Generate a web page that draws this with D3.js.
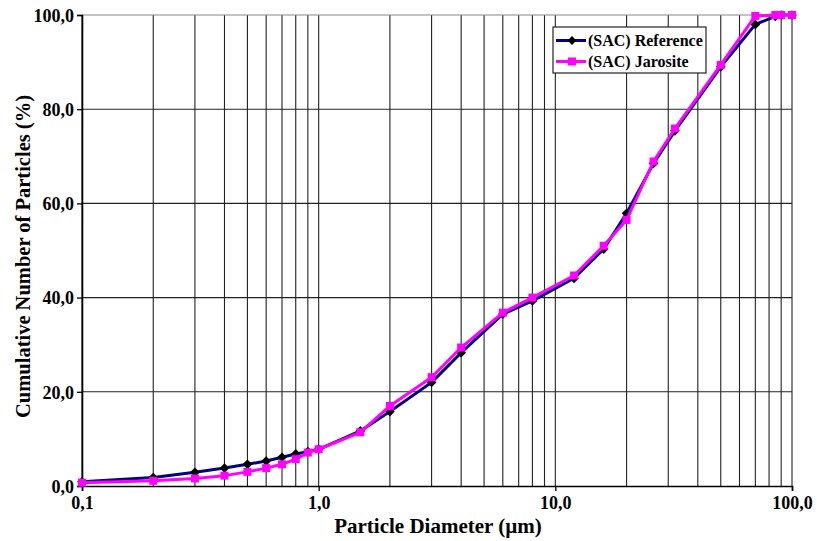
<!DOCTYPE html>
<html>
<head>
<meta charset="utf-8">
<script src="https://cdn.jsdelivr.net/npm/d3@7"></script>
<style>
  html, body { margin: 0; padding: 0; background: #fff; }
  svg { display: block; font-family: "Liberation Serif", "Times New Roman", serif; }
</style>
</head>
<body>
<svg id="chart" width="817" height="541"></svg>
<script>
// Particle size distribution (cumulative number, %)
const diameters = [0.1, 0.2, 0.3, 0.4, 0.5, 0.6, 0.7, 0.8, 0.9, 1.0, 1.5, 2, 3, 4, 6, 8, 12, 16, 20, 26, 32, 50, 70, 85, 90, 100];
const reference = [0.9, 1.8, 2.9, 3.8, 4.6, 5.3, 6.1, 6.8, 7.3, 7.8, 11.7, 15.8, 22.0, 28.3, 36.5, 39.3, 44.1, 50.3, 57.9, 68.5, 75.4, 89.0, 98.0, 99.7, 100, 100];
const jarosite  = [0.7, 1.1, 1.6, 2.2, 3.0, 3.8, 4.6, 5.7, 7.1, 7.8, 11.4, 17.0, 23.1, 29.4, 36.8, 40.0, 44.7, 51.0, 56.5, 68.9, 75.9, 89.4, 99.8, 100, 100, 100];
const seriesNames = ["(SAC) Reference", "(SAC) Jarosite"];
const xTicks = [0.1, 1, 10, 100];
const yTicks = [0, 20, 40, 60, 80, 100];

const locale = d3.formatLocale({ decimal: ",", thousands: ".", grouping: [3], currency: ["", ""] });
const fmt1 = locale.format(".1f");

const svg = d3.select("#chart");
const margin = { left: 82, top: 15, right: 25, bottom: 55 };
const W = 817, H = 541;
const x = d3.scaleLog().domain([0.1, 100]).range([margin.left, W - margin.right]);
const y = d3.scaleLinear().domain([0, 100]).range([H - margin.bottom, margin.top]);

// minor + major vertical grid lines (1..9 x each decade)
const vGrid = [];
[0.1, 1, 10].forEach(d => { for (let k = 1; k <= 9; k++) vGrid.push(+(d * k).toFixed(4)); });
vGrid.push(100);

const grid = svg.append("g");
grid.selectAll("line.v").data(vGrid).join("line")
  .attr("x1", d => x(d)).attr("x2", d => x(d))
  .attr("y1", y(0)).attr("y2", y(100))
  .attr("stroke", "#222").attr("stroke-width", 1.1);
grid.selectAll("line.h").data(yTicks.filter(d => d > 0)).join("line")
  .attr("x1", x(0.1)).attr("x2", x(100))
  .attr("y1", d => y(d)).attr("y2", d => y(d))
  .attr("stroke", d => d === 100 ? "#888" : "#222").attr("stroke-width", 1.1);

// axes
const xAxis = svg.append("g").attr("transform", `translate(0,${y(0)})`)
  .call(d3.axisBottom(x).tickValues(xTicks).tickFormat(fmt1).tickSize(5).tickPadding(5));
const yAxis = svg.append("g").attr("transform", `translate(${x(0.1)},0)`)
  .call(d3.axisLeft(y).tickValues(yTicks).tickFormat(fmt1).tickSize(5).tickPadding(3));
[xAxis, yAxis].forEach(a => {
  a.select(".domain").attr("stroke", "#000").attr("stroke-width", 1.6);
  a.selectAll(".tick line").attr("stroke", "#000").attr("stroke-width", 1.3);
  a.selectAll(".tick text").attr("fill", "#000")
    .style("font-family", "'Liberation Serif', serif")
    .style("font-weight", "bold").style("font-size", "18px");
});
yAxis.selectAll(".tick text").attr("dy", "0.35em");

// axis titles
svg.append("text")
  .attr("x", (x(0.1) + x(100)) / 2 + 1).attr("y", 533)
  .attr("text-anchor", "middle")
  .style("font-weight", "bold").style("font-size", "21px")
  .text("Particle Diameter (µm)");
svg.append("text")
  .attr("transform", `translate(30,${(y(0) + y(100)) / 2 + 6}) rotate(-90)`)
  .attr("text-anchor", "middle")
  .style("font-weight", "bold").style("font-size", "20.5px")
  .text("Cumulative Number of Particles (%)");

// series
const refData = diameters.map((d, i) => [d, reference[i]]);
const jarData = diameters.map((d, i) => [d, jarosite[i]]);
const line = d3.line().x(d => x(d[0])).y(d => y(d[1]));

svg.append("path").datum(refData).attr("d", line)
  .attr("fill", "none").attr("stroke", "#000080").attr("stroke-width", 3).attr("stroke-linejoin", "round");
svg.append("g").selectAll("path").data(refData).join("path")
  .attr("d", d3.symbol(d3.symbolDiamond2, 60)())
  .attr("transform", d => `translate(${x(d[0])},${y(d[1])})`)
  .attr("fill", "#000");

svg.append("path").datum(jarData).attr("d", line)
  .attr("fill", "none").attr("stroke", "#ff00ff").attr("stroke-width", 3).attr("stroke-linejoin", "round");
svg.append("g").selectAll("rect").data(jarData).join("rect")
  .attr("x", d => x(d[0]) - 4).attr("y", d => y(d[1]) - 4)
  .attr("width", 8).attr("height", 8)
  .attr("fill", "#ff00ff");

// legend
const lg = svg.append("g").attr("transform", "translate(553,27)");
lg.append("rect").attr("width", 153).attr("height", 46)
  .attr("fill", "#fff").attr("stroke", "#222").attr("stroke-width", 1.2);
const rows = [
  { name: seriesNames[0], color: "#000080", marker: "diamond" },
  { name: seriesNames[1], color: "#ff00ff", marker: "square" }
];
rows.forEach((r, i) => {
  const cy = 13.5 + i * 21;
  lg.append("line").attr("x1", 3).attr("x2", 33).attr("y1", cy).attr("y2", cy)
    .attr("stroke", r.color).attr("stroke-width", 3);
  if (r.marker === "diamond") {
    lg.append("path").attr("d", d3.symbol(d3.symbolDiamond2, 50)())
      .attr("transform", `translate(19,${cy})`).attr("fill", "#000");
  } else {
    lg.append("rect").attr("x", 15).attr("y", cy - 4).attr("width", 8).attr("height", 8)
      .attr("fill", r.color);
  }
  lg.append("text").attr("x", 35).attr("y", cy + 5.5)
    .style("font-weight", "bold").style("font-size", "16px")
    .text(r.name);
});
</script>
</body>
</html>
